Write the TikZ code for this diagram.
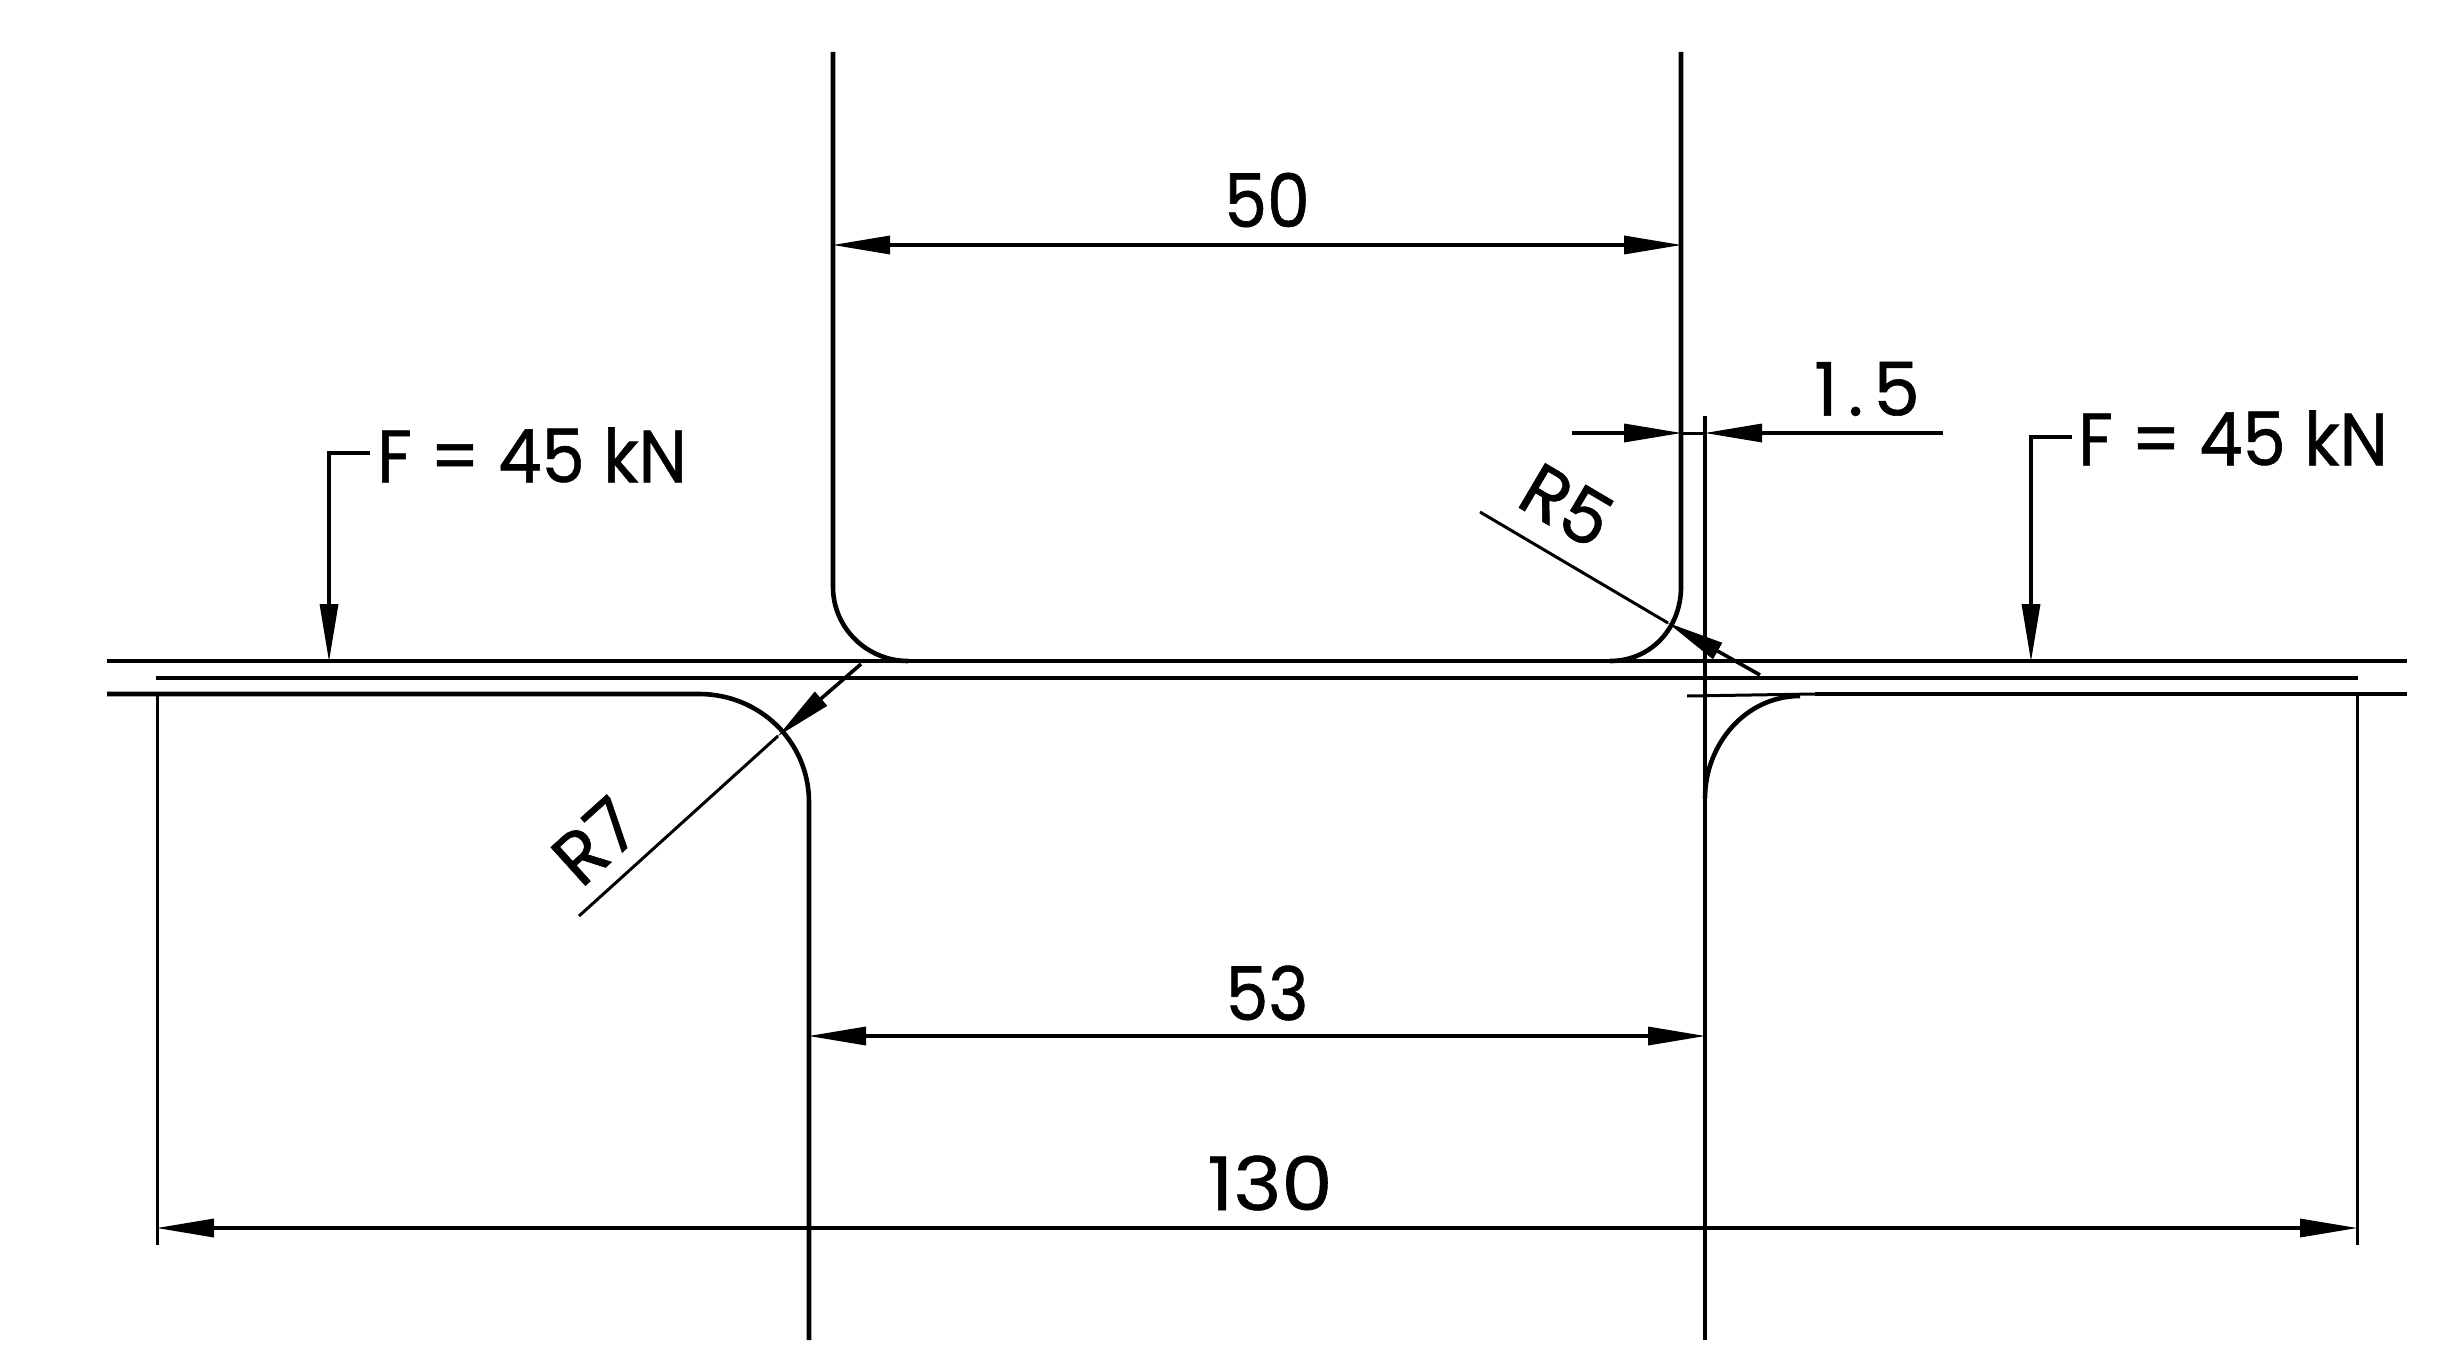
\documentclass[tikz,border=0pt]{standalone}
\usepackage{fontspec}
\setmainfont[FakeBold=0.8]{Poppins}
\usetikzlibrary{arrows.meta}
\tikzset{
  body/.style={line width=4.6pt,black},
  thin line/.style={line width=3pt,black},
  dimarrow/.style={line width=3.6pt,black,-{Triangle[length=57pt,width=19pt,line width=0pt]}},
  label/.style={inner sep=0pt,outer sep=0pt,font=\fontsize{74}{74}\selectfont,black}
}
\begin{document}
\begin{tikzpicture}[x=1pt,y=-1pt]
\useasboundingbox (0,0) rectangle (2456,1372);
\fill[white] (0,0) rectangle (2456,1372);
% named points
\coordinate (upL) at (833,52);
\coordinate (upLb) at (833,587);
\coordinate (upLe) at (908,661);
\coordinate (upR) at (1681,52);
\coordinate (upRb) at (1681,587);
\coordinate (upRe) at (1610,661);
\coordinate (topL) at (107,661);
\coordinate (topR) at (2407,661);
\coordinate (midL) at (156,678);
\coordinate (midR) at (2358,678);
\coordinate (botL) at (107,694);
\coordinate (botLe) at (699,694);
\coordinate (botR) at (2407,694);
\coordinate (botRe) at (1815,694);
\coordinate (lowL) at (809,1340);
\coordinate (lowLb) at (809,802);
\coordinate (lowR) at (1705,1340);
\coordinate (lowRb) at (1705,798);
\coordinate (lowRt) at (1705,416);
\coordinate (arcRe) at (1800,696);
\coordinate (extL) at (157,1245);
\coordinate (extLt) at (157,694);
\coordinate (extR) at (2357,1245);
\coordinate (extRt) at (2357,694);
% profile
\draw[body] (upL) -- (upLb) .. controls (833,628) and (867,661) .. (upLe);
\draw[body] (upR) -- (upRb) .. controls (1681,628) and (1651,661) .. (upRe);
\draw[body] (topL) -- (topR);
\draw[body] (midL) -- (midR);
\draw[body] (botL) -- (botLe) .. controls (760,694) and (809,742) .. (lowLb) -- (lowL);
\draw[body] (botRe) -- (botR);
\draw[body] (lowR) -- (lowRt);
\draw[body] (lowRb) .. controls (1705,745) and (1745,696) .. (arcRe);
\coordinate (ext15) at (1687,696);
\draw[thin line] (ext15) -- (botRe);
\draw[thin line] (extLt) -- (extL);
\draw[thin line] (extRt) -- (extR);
% dimension 50
\coordinate (d50a) at (833,245);
\coordinate (d50b) at (1681,245);
\coordinate (d50m) at (1257,245);
\draw[dimarrow] (d50m) -- (d50a);
\draw[dimarrow] (d50m) -- (d50b);
\node[label] (t50) at (1267,200) {\scalebox{0.92}[1]{50}};
% dimension 53
\coordinate (d53a) at (809,1036);
\coordinate (d53b) at (1705,1036);
\coordinate (d53m) at (1257,1036);
\draw[dimarrow] (d53m) -- (d53a);
\draw[dimarrow] (d53m) -- (d53b);
\node[label] (t53) at (1267,993) {\scalebox{0.92}[1]{53}};
% dimension 130
\coordinate (d130a) at (157,1228);
\coordinate (d130b) at (2357,1228);
\coordinate (d130m) at (1257,1228);
\draw[dimarrow] (d130m) -- (d130a);
\draw[dimarrow] (d130m) -- (d130b);
\node[label] (t130) at (1270,1183) {\scalebox{1.1}[1]{130}};
% dimension 1.5
\coordinate (d15far) at (1572,433);
\coordinate (d15a) at (1681,433);
\coordinate (d15b) at (1705,433);
\coordinate (d15end) at (1943,433);
\draw[dimarrow] (d15far) -- (d15a);
\draw[dimarrow] (d15end) -- (d15b);
\draw[thin line] (d15a) -- (d15b);
\node[label] (t15) at (1867,389) {1\kern10pt.\kern10pt5};
% R5
\coordinate (r5far) at (1480,512);
\coordinate (r5tip) at (1668,623);
\coordinate (r5end) at (1760,675);
\draw[thin line] (r5far) -- (r5tip);
\draw[dimarrow] (r5end) -- (r5tip);
\node[label,rotate=-30.5] (tr5) at (1567,505) {R5};
% R7
\coordinate (r7far) at (579,916);
\coordinate (r7tip) at (778,736);
\coordinate (r7end) at (861,664);
\draw[thin line] (r7far) -- (r7tip);
\draw[dimarrow] (r7end) -- (r7tip);
\node[label,rotate=42] (tr7) at (595,841) {R7};
% forces
\node[label] (fl) at (532,455) {\scalebox{0.93}[1]{F = 45 kN}};
\node[label] (fr) at (2233,438) {\scalebox{0.93}[1]{F = 45 kN}};
\coordinate (flh) at (370,453);
\coordinate (fle) at (329,453);
\coordinate (flt) at (329,661);
\coordinate (frh) at (2072,437);
\coordinate (fre) at (2031,437);
\coordinate (frt) at (2031,661);
\draw[dimarrow,line join=miter] (flh) -- (fle) -- (flt);
\draw[dimarrow,line join=miter] (frh) -- (fre) -- (frt);
\end{tikzpicture}
\end{document}
